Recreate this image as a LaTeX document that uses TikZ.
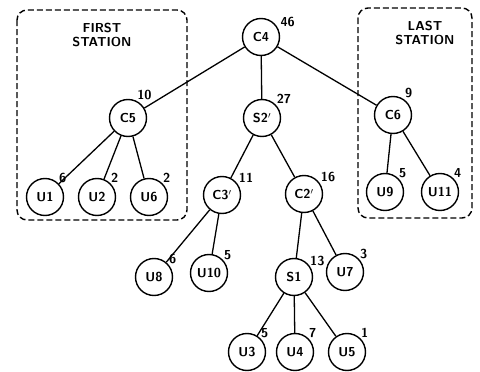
\documentclass[tikz,border=0pt]{standalone}
\usepackage{tikz}

\begin{document}
\begin{tikzpicture}[x=1pt, y=-1pt,
    tnode/.style={circle, draw, line width=1.4pt, minimum size=37pt, inner sep=0pt,
                  font=\sffamily\bfseries\fontsize{13}{13}\selectfont},
    lbl/.style={font=\sffamily\bfseries\fontsize{13}{13}\selectfont, inner sep=1pt},
    every label/.style={lbl},
    link/.style={line width=1.3pt},
    station/.style={line width=1.4pt, rounded corners=10pt, dash pattern=on 6pt off 3pt}]
  \useasboundingbox (0,0) rectangle (480,372);
  % Station boxes
  \draw[station] (17,10) rectangle (187,220);
  \draw[station] (358,8) rectangle (472,218);
  \node[lbl, align=center, font=\sffamily\bfseries\fontsize{13}{14}\selectfont] (first) at (102,35) {FIRST\\STATION};
  \node[lbl, align=center, font=\sffamily\bfseries\fontsize{13}{14}\selectfont] (last) at (425,33) {LAST\\STATION};
  % Top levels
  \node[tnode, label={[label distance=1pt]25:46}] (c4) at (261,37) {C4};
  \node[tnode, label={[label distance=0pt]65:10}] (c5) at (128,118) {C5};
  \node[tnode, label={[label distance=0pt]45:27}] (s2) at (262,118) {S2$'$};
  \node[tnode, label={[label distance=0pt]55:9}] (c6) at (393,115) {C6};
  % First station leaves
  \node[tnode, label={[label distance=-1pt]45:6}] (u1) at (45,197) {U1};
  \node[tnode, label={[label distance=-1pt]45:2}] (u2) at (97,197) {U2};
  \node[tnode, label={[label distance=-1pt]45:2}] (u6) at (149,197) {U6};
  % Middle branch
  \node[tnode, label={[label distance=0pt]35:11}] (c3) at (222,195) {C3$'$};
  \node[tnode, label={[label distance=0pt]35:16}] (c2) at (304,194) {C2$'$};
  % Last station leaves
  \node[tnode, label={[label distance=-1pt]45:5}] (u9) at (385,192) {U9};
  \node[tnode, label={[label distance=-1pt]45:4}] (u11) at (440,192) {U11};
  % Lower levels
  \node[tnode, label={[label distance=-1pt]40:6}] (u8) at (154,277) {U8};
  \node[tnode, label={[label distance=-1pt]40:5}] (u10) at (209,273) {U10};
  \node[tnode, label={[label distance=-1pt]35:13}] (s1) at (294,277) {S1};
  \node[tnode, label={[label distance=-1pt]40:3}] (u7) at (345,272) {U7};
  \node[tnode, label={[label distance=-1pt]45:5}] (u3) at (247,352) {U3};
  \node[tnode, label={[label distance=-1pt]45:7}] (u4) at (295,352) {U4};
  \node[tnode, label={[label distance=-1pt]45:1}] (u5) at (347,352) {U5};
  % Links
  \foreach \a/\b in {c4/c5, c4/s2, c4/c6, c5/u1, c5/u2, c5/u6, s2/c3, s2/c2,
                     c6/u9, c6/u11, c3/u8, c3/u10, c2/s1, c2/u7, s1/u3, s1/u4, s1/u5}
    \draw[link] (\a) -- (\b);
\end{tikzpicture}
\end{document}
